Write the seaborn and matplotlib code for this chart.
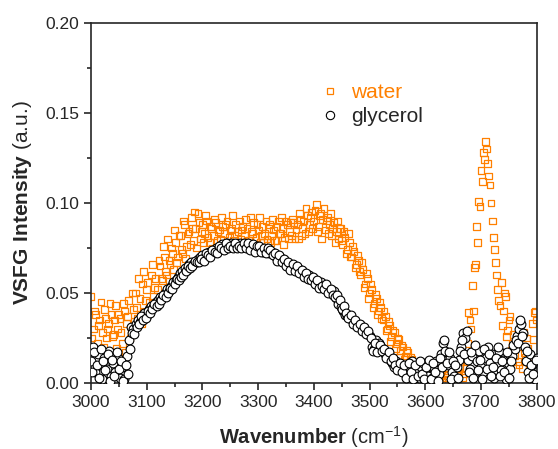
import numpy as np
import pandas as pd
import matplotlib
matplotlib.use("Agg")
import matplotlib.pyplot as plt
import seaborn as sns
from matplotlib.lines import Line2D
from matplotlib.ticker import MultipleLocator, FormatStrFormatter

# two interleaved scans, 4 cm-1 steps each
wavenumber = list(range(3000, 3801, 4))
wavenumber2 = list(range(3002, 3799, 4))

water = [
    0.048, 0.030, 0.038, 0.022, 0.035, 0.028, 0.041, 0.025, 0.033, 0.038,
    0.027, 0.043, 0.030, 0.036, 0.022, 0.040, 0.033, 0.046, 0.029, 0.041,
    0.050, 0.036, 0.047, 0.055, 0.040, 0.052, 0.045, 0.060, 0.048, 0.058,
    0.052, 0.065, 0.057, 0.070, 0.060, 0.068, 0.075, 0.063, 0.078, 0.070,
    0.082, 0.072, 0.088, 0.076, 0.084, 0.092, 0.079, 0.086, 0.094, 0.080,
    0.088, 0.083, 0.090, 0.078, 0.086, 0.082, 0.089, 0.084, 0.080, 0.087,
    0.083, 0.090, 0.081, 0.086, 0.079, 0.088, 0.084, 0.080, 0.087, 0.082,
    0.086, 0.079, 0.084, 0.089, 0.081, 0.085, 0.078, 0.087, 0.083, 0.080,
    0.088, 0.082, 0.085, 0.079, 0.090, 0.083, 0.086, 0.081, 0.088, 0.084,
    0.082, 0.089, 0.085, 0.080, 0.091, 0.086, 0.083, 0.093, 0.088, 0.095,
    0.090, 0.099, 0.087, 0.094, 0.091, 0.085, 0.092, 0.088, 0.082, 0.089,
    0.084, 0.080, 0.086, 0.077, 0.081, 0.074, 0.078, 0.070, 0.073, 0.066,
    0.068, 0.060, 0.063, 0.055, 0.058, 0.050, 0.052, 0.044, 0.047, 0.040,
    0.042, 0.035, 0.037, 0.030, 0.032, 0.026, 0.028, 0.022, 0.024, 0.018,
    0.020, 0.015, 0.017, 0.011, 0.013, 0.008, 0.010, 0.005, 0.007, 0.003,
    0.006, 0.002, 0.008, 0.004, 0.001, 0.007, 0.003, 0.009, 0.002, 0.005,
    0.004, 0.010, 0.003, 0.008, 0.002, 0.006, 0.012, 0.005, 0.015, 0.022,
    0.035, 0.054, 0.064, 0.087, 0.101, 0.118, 0.128, 0.134, 0.122, 0.110,
    0.090, 0.074, 0.060, 0.046, 0.056, 0.040, 0.048, 0.029, 0.037, 0.022,
    0.015, 0.024, 0.010, 0.020, 0.028, 0.014, 0.019, 0.005, 0.033, 0.039,
    0.035,
]

water2 = [
    0.025, 0.040, 0.018, 0.032, 0.045, 0.020, 0.036, 0.030, 0.044, 0.026,
    0.035, 0.019, 0.038, 0.028, 0.044, 0.017, 0.037, 0.025, 0.050, 0.034,
    0.042, 0.058, 0.033, 0.062, 0.046, 0.056, 0.040, 0.066, 0.053, 0.044,
    0.068, 0.058, 0.076, 0.062, 0.080, 0.066, 0.072, 0.085, 0.067, 0.082,
    0.074, 0.090, 0.069, 0.083, 0.077, 0.086, 0.095, 0.075, 0.089, 0.084,
    0.078, 0.093, 0.081, 0.087, 0.075, 0.091, 0.079, 0.085, 0.092, 0.077,
    0.088, 0.078, 0.085, 0.093, 0.082, 0.077, 0.090, 0.085, 0.078, 0.091,
    0.079, 0.092, 0.083, 0.077, 0.088, 0.092, 0.082, 0.078, 0.090, 0.086,
    0.078, 0.091, 0.079, 0.087, 0.083, 0.092, 0.077, 0.090, 0.080, 0.089,
    0.091, 0.080, 0.088, 0.094, 0.082, 0.090, 0.097, 0.084, 0.092, 0.086,
    0.096, 0.084, 0.093, 0.080, 0.097, 0.090, 0.083, 0.094, 0.086, 0.078,
    0.090, 0.086, 0.079, 0.084, 0.072, 0.083, 0.070, 0.076, 0.064, 0.071,
    0.062, 0.067, 0.053, 0.061, 0.047, 0.055, 0.042, 0.049, 0.038, 0.045,
    0.036, 0.040, 0.029, 0.034, 0.023, 0.029, 0.019, 0.025, 0.014, 0.021,
    0.013, 0.018, 0.009, 0.014, 0.006, 0.011, 0.003, 0.008, 0.001, 0.006,
    0.010, 0.004, 0.001, 0.006, 0.011, 0.002, 0.005, 0.001, 0.008, 0.003,
    0.007, 0.001, 0.005, 0.011, 0.004, 0.009, 0.003, 0.014, 0.008, 0.039,
    0.030, 0.040, 0.066, 0.078, 0.098, 0.112, 0.124, 0.130, 0.115, 0.100,
    0.081, 0.067, 0.052, 0.043, 0.032, 0.050, 0.026, 0.035, 0.018, 0.027,
    0.022, 0.012, 0.030, 0.008, 0.017, 0.025, 0.011, 0.003, 0.024, 0.040,
]

glycerol = [
    0.012, 0.020, 0.006, 0.016, 0.010, 0.002, 0.014, 0.008, 0.018, 0.004,
    0.011, 0.006, 0.014, 0.003, 0.009, 0.002, 0.015, 0.024, 0.031, 0.030,
    0.033, 0.035, 0.034, 0.037, 0.039, 0.038, 0.041, 0.043, 0.042, 0.045,
    0.046, 0.048, 0.047, 0.050, 0.052, 0.051, 0.054, 0.056, 0.057, 0.059,
    0.061, 0.062, 0.064, 0.063, 0.066, 0.067, 0.066, 0.068, 0.069, 0.070,
    0.071, 0.070, 0.072, 0.073, 0.072, 0.074, 0.075, 0.074, 0.076, 0.077,
    0.076, 0.078, 0.077, 0.078, 0.077, 0.076, 0.077, 0.078, 0.076, 0.077,
    0.076, 0.077, 0.075, 0.076, 0.075, 0.074, 0.075, 0.073, 0.074, 0.073,
    0.072, 0.073, 0.071, 0.070, 0.069, 0.070, 0.068, 0.067, 0.066, 0.065,
    0.064, 0.065, 0.063, 0.064, 0.062, 0.061, 0.060, 0.059, 0.060, 0.058,
    0.057, 0.056, 0.055, 0.056, 0.054, 0.053, 0.052, 0.051, 0.050, 0.051,
    0.047, 0.044, 0.042, 0.040, 0.038, 0.037, 0.036, 0.035, 0.034, 0.033,
    0.032, 0.031, 0.030, 0.029, 0.028, 0.026, 0.020, 0.019, 0.024, 0.022,
    0.020, 0.018, 0.016, 0.015, 0.013, 0.011, 0.009, 0.012, 0.008, 0.010,
    0.006, 0.009, 0.004, 0.008, 0.012, 0.005, 0.007, 0.003, 0.009, 0.011,
    0.006, 0.004, 0.010, 0.003, 0.008, 0.012, 0.005, 0.016, 0.022, 0.018,
    0.010, 0.014, 0.006, 0.004, 0.009, 0.013, 0.020, 0.028, 0.025, 0.013,
    0.008, 0.015, 0.004, 0.012, 0.018, 0.009, 0.006, 0.014, 0.020, 0.011,
    0.016, 0.003, 0.010, 0.018, 0.007, 0.013, 0.002, 0.011, 0.008, 0.015,
    0.019, 0.026, 0.030, 0.033, 0.028, 0.012, 0.006, 0.016, 0.010, 0.002,
    0.014,
]

glycerol2 = [
    0.006, 0.017, 0.010, 0.003, 0.019, 0.012, 0.007, 0.016, 0.001, 0.013,
    0.004, 0.017, 0.008, 0.012, 0.001, 0.010, 0.005, 0.019, 0.028, 0.027,
    0.031, 0.033, 0.037, 0.035, 0.036, 0.040, 0.039, 0.041, 0.044, 0.043,
    0.044, 0.046, 0.049, 0.048, 0.050, 0.053, 0.052, 0.055, 0.058, 0.057,
    0.059, 0.060, 0.062, 0.065, 0.064, 0.065, 0.068, 0.067, 0.067, 0.069,
    0.068, 0.072, 0.071, 0.070, 0.074, 0.073, 0.072, 0.076, 0.075, 0.074,
    0.078, 0.075, 0.076, 0.075, 0.078, 0.075, 0.076, 0.075, 0.078, 0.075,
    0.078, 0.074, 0.077, 0.073, 0.076, 0.076, 0.073, 0.075, 0.072, 0.075,
    0.074, 0.071, 0.072, 0.068, 0.071, 0.067, 0.069, 0.065, 0.067, 0.063,
    0.066, 0.062, 0.065, 0.061, 0.063, 0.059, 0.061, 0.058, 0.057, 0.059,
    0.055, 0.057, 0.053, 0.054, 0.052, 0.055, 0.050, 0.052, 0.049, 0.048,
    0.049, 0.046, 0.041, 0.043, 0.039, 0.036, 0.038, 0.033, 0.035, 0.031,
    0.033, 0.029, 0.031, 0.027, 0.029, 0.025, 0.018, 0.022, 0.017, 0.021,
    0.018, 0.019, 0.014, 0.017, 0.012, 0.014, 0.010, 0.007, 0.011, 0.006,
    0.010, 0.003, 0.011, 0.006, 0.002, 0.010, 0.004, 0.012, 0.005, 0.002,
    0.009, 0.013, 0.002, 0.011, 0.006, 0.001, 0.014, 0.009, 0.024, 0.011,
    0.017, 0.002, 0.012, 0.010, 0.003, 0.018, 0.024, 0.016, 0.029, 0.006,
    0.017, 0.003, 0.021, 0.007, 0.013, 0.002, 0.019, 0.008, 0.016, 0.004,
    0.009, 0.014, 0.020, 0.004, 0.012, 0.006, 0.017, 0.003, 0.012, 0.021,
    0.024, 0.022, 0.035, 0.026, 0.020, 0.018, 0.003, 0.010, 0.005, 0.013,
]

orange = "#ff8000"

water_df = pd.DataFrame({"wavenumber": wavenumber + wavenumber2,
                         "intensity": water + water2})
gly_df = pd.DataFrame({"wavenumber": wavenumber + wavenumber2,
                       "intensity": glycerol + glycerol2})

sns.set_style("ticks")
plt.rcParams["font.family"] = ["Liberation Sans", "DejaVu Sans"]
plt.rcParams["mathtext.fontset"] = "custom"
plt.rcParams["mathtext.rm"] = "Liberation Sans"
plt.rcParams["mathtext.bf"] = "Liberation Sans:bold"

fig = plt.figure(figsize=(5.58, 4.49), dpi=100)
ax = fig.add_axes([0.163, 0.147, 0.799, 0.802])

sns.scatterplot(data=water_df, x="wavenumber", y="intensity", marker="s", s=24,
                facecolor="none", edgecolor=orange, linewidth=0.9, ax=ax, zorder=2)
sns.scatterplot(data=gly_df, x="wavenumber", y="intensity", marker="o", s=40,
                facecolor="white", edgecolor="black", linewidth=0.8, ax=ax, zorder=3)

ax.set_xlim(3000, 3800)
ax.set_ylim(0, 0.20)
ax.xaxis.set_major_locator(MultipleLocator(100))
ax.xaxis.set_minor_locator(MultipleLocator(50))
ax.yaxis.set_major_locator(MultipleLocator(0.05))
ax.yaxis.set_minor_locator(MultipleLocator(0.025))
ax.yaxis.set_major_formatter(FormatStrFormatter("%.2f"))
ax.tick_params(which="major", direction="out", length=5, width=1.2, labelsize=12.5,
               top=False, right=False)
ax.tick_params(which="minor", direction="out", length=3, width=1.2,
               top=False, right=False)
for sp in ax.spines.values():
    sp.set_visible(True)
    sp.set_linewidth(1.2)

ax.set_xlabel(r"$\mathbf{Wavenumber}$ (cm$^{-1}$)", fontsize=14.5, labelpad=10)
ax.set_ylabel(r"$\mathbf{VSFG\ Intensity}$ (a.u.)", fontsize=15, labelpad=8)

handles = [
    Line2D([], [], marker="s", linestyle="none", markersize=5, markerfacecolor="none",
           markeredgecolor=orange, markeredgewidth=0.9),
    Line2D([], [], marker="o", linestyle="none", markersize=6, markerfacecolor="white",
           markeredgecolor="black", markeredgewidth=0.8),
]
leg = ax.legend(handles, ["water", "glycerol"], loc="upper left",
                bbox_to_anchor=(0.466, 0.885), frameon=False, fontsize=15,
                handletextpad=0.4, labelspacing=0.25, handlelength=1.2)
leg.get_texts()[0].set_color(orange)

fig.savefig("out.png", dpi=100)
